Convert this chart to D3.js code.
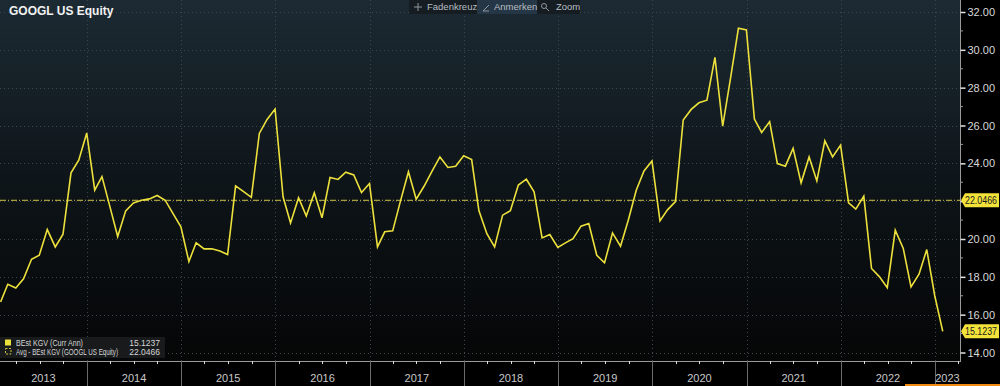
<!DOCTYPE html>
<html>
<head>
<meta charset="utf-8">
<script src="https://cdn.jsdelivr.net/npm/d3@7"></script>
<style>
  body { margin: 0; background: #000; overflow: hidden; }
  text { font-family: "Liberation Sans", Arial, sans-serif; }
</style>
</head>
<body>
<div id="chart"></div>
<script>
// month-end values, Jan 2013 .. Jan 2023
var startYear = 2013;
var kgv = [
  16.67, 17.61, 17.41, 17.90, 18.93, 19.14, 20.50, 19.58, 20.25, 23.50, 24.17, 25.60,
  22.58, 23.30, 21.70, 20.13, 21.49, 21.90, 22.05, 22.12, 22.30, 22.05, 21.35, 20.64,
  18.81, 19.80, 19.48, 19.48, 19.37, 19.18, 22.81, 22.50, 22.20, 25.58, 26.32, 26.87,
  22.23, 20.85, 22.18, 21.22, 22.44, 21.12, 23.25, 23.15, 23.53, 23.39, 22.46, 22.93,
  19.58, 20.38, 20.43, 22.00, 23.55, 22.10, 22.80, 23.60, 24.34, 23.78, 23.85, 24.40,
  24.20, 21.50, 20.28, 19.58, 21.26, 21.49, 22.85, 23.16, 22.49, 20.06, 20.24, 19.55,
  19.81, 20.02, 20.68, 20.82, 19.14, 18.74, 20.32, 19.62, 20.99, 22.58, 23.60, 24.12,
  20.96, 21.54, 21.98, 26.29, 26.85, 27.20, 27.34, 29.60, 25.97, 28.54, 31.14, 31.05,
  26.34, 25.63, 26.20, 23.99, 23.85, 24.79, 22.97, 24.34, 23.07, 25.19, 24.34, 24.96,
  21.91, 21.58, 22.26, 18.44, 18.00, 17.43, 20.47, 19.50, 17.47, 18.14, 19.44, 17.00,
  15.12
];
var lastValue = 15.1237;
var avgKgv = 22.0466;
var yTicks = [14, 16, 18, 20, 22, 24, 26, 28, 30, 32];
var years = [2013, 2014, 2015, 2016, 2017, 2018, 2019, 2020, 2021, 2022, 2023];
var legendNames = ["BEst KGV (Curr Ann)", "Avg - BEst KGV (GOOGL US Equity)"];
var legendValues = ["15.1237", "22.0466"];
var toolItems = ["Fadenkreuz", "Anmerken", "Zoom"];
var chartTitle = "GOOGL US Equity";

var W = 1000, H = 386;
var plotRight = 960, plotBottom = 361;
var lineColor = "#ece03c";

var svg = d3.select("#chart").append("svg")
    .attr("width", W)
    .attr("height", H);

var defs = svg.append("defs");
var grad = defs.append("linearGradient")
    .attr("id", "bg")
    .attr("x1", 0).attr("y1", 0).attr("x2", 0).attr("y2", 1);
grad.append("stop").attr("offset", "0%").attr("stop-color", "#1c2a33");
grad.append("stop").attr("offset", "55%").attr("stop-color", "#0d1317");
grad.append("stop").attr("offset", "100%").attr("stop-color", "#050606");

defs.append("clipPath").attr("id", "plotClip")
  .append("rect").attr("x", 0).attr("y", 0).attr("width", plotRight).attr("height", plotBottom);

svg.append("rect").attr("width", W).attr("height", H).attr("fill", "#000");
svg.append("rect")
    .attr("width", plotRight).attr("height", plotBottom)
    .attr("fill", "url(#bg)");

// scales
var x = d3.scaleTime()
    .domain([new Date(2014, 0, 1), new Date(2023, 0, 1)])
    .range([87, 935]);
var y = d3.scaleLinear()
    .domain([14, 32])
    .range([352.5, 12]);

var data = kgv.map(function (v, i) {
    return { date: new Date(startYear, i + 1, 0), value: v };
});

var plot = svg.append("g").attr("clip-path", "url(#plotClip)");

// horizontal grid
plot.selectAll("line.hgrid")
    .data(yTicks)
    .enter().append("line")
    .attr("class", "hgrid")
    .attr("x1", 0).attr("x2", plotRight)
    .attr("y1", function (d) { return Math.round(y(d)) + 0.5; })
    .attr("y2", function (d) { return Math.round(y(d)) + 0.5; })
    .attr("stroke", "#3c464d")
    .attr("stroke-dasharray", "1,3");

// vertical grid at year boundaries
var yearStarts = years.slice(1).map(function (yr) { return new Date(yr, 0, 1); });
plot.selectAll("line.vgrid")
    .data(yearStarts)
    .enter().append("line")
    .attr("class", "vgrid")
    .attr("x1", function (d) { return Math.round(x(d)) + 0.5; })
    .attr("x2", function (d) { return Math.round(x(d)) + 0.5; })
    .attr("y1", 0).attr("y2", plotBottom)
    .attr("stroke", "#3c464d")
    .attr("stroke-dasharray", "1,3");

// average line
plot.append("line")
    .attr("x1", 0).attr("x2", plotRight)
    .attr("y1", y(avgKgv)).attr("y2", y(avgKgv))
    .attr("stroke", "#cfc245")
    .attr("stroke-width", 1)
    .attr("stroke-dasharray", "6,2,1,2");

// series line
var line = d3.line()
    .x(function (d) { return x(d.date); })
    .y(function (d) { return y(d.value); });

plot.append("path")
    .datum(data)
    .attr("d", line)
    .attr("fill", "none")
    .attr("stroke", lineColor)
    .attr("stroke-width", 1.6)
    .attr("stroke-linejoin", "miter");

// right axis
svg.append("line")
    .attr("x1", plotRight + 0.5).attr("x2", plotRight + 0.5)
    .attr("y1", 0).attr("y2", plotBottom)
    .attr("stroke", "#9a9a9a");

var yAxis = d3.axisRight(y)
    .tickValues(yTicks)
    .tickSize(5)
    .tickPadding(2)
    .tickFormat(d3.format(".2f"));

var yAxisG = svg.append("g")
    .attr("transform", "translate(" + (plotRight + 0.5) + ",0)")
    .call(yAxis);
yAxisG.select(".domain").remove();
yAxisG.selectAll(".tick line").attr("stroke", "#e0e0e0").attr("stroke-width", 1.5);
yAxisG.selectAll(".tick text")
    .attr("fill", "#d8d8d8")
    .style("font-size", "11px");
// the avg tag sits on top of the 22.00 label
yAxisG.selectAll(".tick")
    .filter(function (d) { return Math.abs(y(d) - y(avgKgv)) < 10 || Math.abs(y(d) - y(lastValue)) < 10; })
    .select("text").remove();

// minor ticks
var minorY = d3.range(15, 32, 2);
svg.selectAll("line.minorY")
    .data(minorY)
    .enter().append("line")
    .attr("x1", plotRight).attr("x2", plotRight + 3)
    .attr("y1", function (d) { return y(d); })
    .attr("y2", function (d) { return y(d); })
    .attr("stroke", "#9a9a9a");

// value tags on the right axis
function tag(v, label) {
    var ty = y(v);
    var g = svg.append("g");
    g.append("path")
        .attr("d", "M" + (plotRight + 1) + "," + ty +
            "L" + (plotRight + 5) + "," + (ty - 7) +
            "H" + 999 + "V" + (ty + 7) +
            "H" + (plotRight + 5) + "Z")
        .attr("fill", "#f3e23a");
    g.append("text")
        .attr("x", plotRight + 5)
        .attr("y", ty + 4)
        .attr("fill", "#1a1a1a")
        .attr("textLength", 32)
        .attr("lengthAdjust", "spacingAndGlyphs")
        .style("font-size", "11px")
        .text(label);
}
tag(avgKgv, legendValues[1]);
tag(lastValue, legendValues[0]);

// bottom time axis
svg.append("line")
    .attr("x1", 0).attr("x2", plotRight + 1)
    .attr("y1", plotBottom + 0.5).attr("y2", plotBottom + 0.5)
    .attr("stroke", "#9a9a9a");

svg.selectAll("line.yearSep")
    .data(yearStarts)
    .enter().append("line")
    .attr("x1", function (d) { return Math.round(x(d)) + 0.5; })
    .attr("x2", function (d) { return Math.round(x(d)) + 0.5; })
    .attr("y1", plotBottom).attr("y2", H)
    .attr("stroke", "#6a6a6a");

var quarters = d3.timeMonth.every(3).range(new Date(2013, 0, 1), new Date(2023, 6, 1))
    .filter(function (d) { return d.getMonth() !== 0 && x(d) < plotRight; });
svg.selectAll("line.qtick")
    .data(quarters)
    .enter().append("line")
    .attr("x1", function (d) { return Math.round(x(d)) + 0.5; })
    .attr("x2", function (d) { return Math.round(x(d)) + 0.5; })
    .attr("y1", plotBottom).attr("y2", plotBottom + 3)
    .attr("stroke", "#e0e0e0");

svg.selectAll("text.year")
    .data(years)
    .enter().append("text")
    .attr("class", "year")
    .attr("x", function (yr) {
        var a = Math.max(0, x(new Date(yr, 0, 1)));
        var b = Math.min(plotRight, x(new Date(yr + 1, 0, 1)));
        return (a + b) / 2;
    })
    .attr("y", 382)
    .attr("text-anchor", "middle")
    .attr("fill", "#c8c8c8")
    .style("font-size", "11px")
    .text(function (yr) { return yr; });

svg.append("rect")
    .attr("x", 905).attr("y", 384)
    .attr("width", 95).attr("height", 2)
    .attr("fill", "#f08a10");

// title
svg.append("text")
    .attr("x", 9).attr("y", 15)
    .attr("fill", "#f2f2f2")
    .style("font-size", "12px")
    .style("font-weight", "bold")
    .text(chartTitle);

// toolbar
var tb = svg.append("g");
tb.append("rect")
    .attr("x", 409).attr("y", 0).attr("width", 171).attr("height", 14)
    .attr("fill", "#151d22");
tb.append("rect")
    .attr("x", 477).attr("y", 0).attr("width", 60).attr("height", 14)
    .attr("fill", "#253746");
var toolX = [427, 494, 556];
tb.selectAll("text.tool")
    .data(toolItems)
    .enter().append("text")
    .attr("x", function (d, i) { return toolX[i]; })
    .attr("y", 10)
    .attr("fill", "#b8bec2")
    .style("font-size", "9.5px")
    .text(function (d) { return d; });
// icons
tb.append("path")
    .attr("d", "M418,3V11M414,7H422")
    .attr("stroke", "#8f979c").attr("stroke-width", 1);
tb.append("path")
    .attr("d", "M483,11L489,5M483,11H489")
    .attr("stroke", "#8f979c").attr("stroke-width", 1);
tb.append("circle")
    .attr("cx", 544).attr("cy", 6).attr("r", 2.5)
    .attr("fill", "none").attr("stroke", "#8f979c");
tb.append("path")
    .attr("d", "M546,8L549,11")
    .attr("stroke", "#8f979c");

// legend
var nameWidths = [67, 102];
var lg = svg.append("g");
lg.append("rect")
    .attr("x", 0).attr("y", 337).attr("width", 165).attr("height", 21)
    .attr("fill", "#1b1d1f").attr("opacity", 0.9);
lg.append("rect")
    .attr("x", 5).attr("y", 339.5).attr("width", 6).attr("height", 6)
    .attr("fill", lineColor);
lg.append("rect")
    .attr("x", 5.5).attr("y", 348.5).attr("width", 5.5).attr("height", 5.5)
    .attr("fill", "none").attr("stroke", "#cfc245")
    .attr("stroke-dasharray", "2,1.5");
lg.selectAll("text.lname")
    .data(legendNames)
    .enter().append("text")
    .attr("x", 16)
    .attr("y", function (d, i) { return 346 + i * 9; })
    .attr("fill", "#d6d6d6")
    .attr("textLength", function (d, i) { return nameWidths[i]; })
    .attr("lengthAdjust", "spacingAndGlyphs")
    .style("font-size", "8.5px")
    .text(function (d) { return d; });
lg.selectAll("text.lval")
    .data(legendValues)
    .enter().append("text")
    .attr("x", 160)
    .attr("y", function (d, i) { return 346 + i * 9; })
    .attr("text-anchor", "end")
    .attr("fill", "#d6d6d6")
    .style("font-size", "8.5px")
    .text(function (d) { return d; });
</script>
</body>
</html>
